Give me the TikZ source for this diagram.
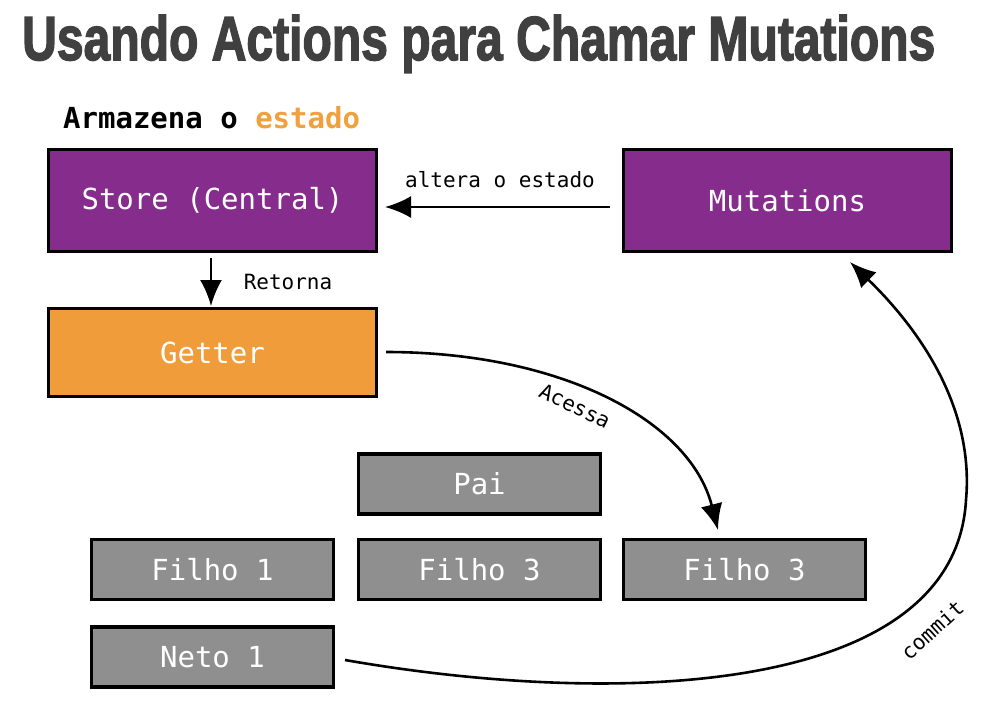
\documentclass[tikz,border=0pt]{standalone}
\usepackage{fontspec}
\setmainfont{Liberation Sans}
\setmonofont{DejaVu Sans Mono}
\newfontfamily\titlefont[BoldFeatures={FakeBold=2.5}]{Liberation Sans}
\usetikzlibrary{arrows.meta}
\definecolor{vpurple}{RGB}{134,44,140}
\definecolor{vorange}{RGB}{241,156,58}
\definecolor{vgrey}{RGB}{143,143,143}
\definecolor{vtitle}{RGB}{64,64,64}
\definecolor{vlabel}{RGB}{240,160,60}
\tikzset{
  box/.style={draw=black, line width=3.4pt, text=white, inner sep=0pt,
    font=\ttfamily\fontsize{29}{29}\selectfont},
  bigbox/.style={box, minimum width=328pt, minimum height=102pt},
  getbox/.style={box, minimum width=328pt, minimum height=88pt, fill=vorange},
  smallbox/.style={box, minimum width=242pt, minimum height=60pt, fill=vgrey},
  conn/.style={line width=2.6pt, -{Latex[length=26pt,width=22pt]}},
  lbl/.style={font=\ttfamily\fontsize{21}{21}\selectfont, text=black, inner sep=0pt}
}
\begin{document}
\begin{tikzpicture}[x=1pt,y=-1pt]
\useasboundingbox (0,0) rectangle (985,705);
% title
\node[anchor=base west, inner sep=0pt, text=vtitle] (title) at (22,60)
  {\resizebox{913pt}{45pt}{\titlefont\bfseries Usando Actions para Chamar Mutations}};
\node[anchor=base west, inner sep=0pt, font=\ttfamily\bfseries\fontsize{29}{29}\selectfont] (arm) at (63,128)
  {Armazena o \textcolor{vlabel}{estado}};
% boxes
\node[bigbox, fill=vpurple] (store) at (212.5,200.5) {Store (Central)};
\node[bigbox, fill=vpurple] (mut) at (787.5,200.5) {Mutations};
\node[getbox] (getter) at (212.5,352.5) {Getter};
\node[smallbox] (pai) at (479.5,484) {Pai};
\node[smallbox] (f1) at (212.5,569.5) {Filho 1};
\node[smallbox] (f3a) at (479.5,569.5) {Filho 3};
\node[smallbox] (f3b) at (744.5,569.5) {Filho 3};
\node[smallbox] (neto) at (212.5,657) {Neto 1};
% connectors
\coordinate (sb) at (211,258);
\coordinate (gt) at (211,306);
\draw[conn] (sb) -- (gt);
\node[lbl] (lret) at (288,282) {Retorna};
\coordinate (ms) at (610,207);
\coordinate (se) at (385,207);
\draw[conn] (ms) -- (se);
\node[lbl] (lalt) at (500,180) {altera o estado};
\coordinate (ge) at (386,352);
\coordinate (ft) at (718,530);
\draw[conn] (ge) .. controls (560,352) and (690,420) .. (ft);
\node[lbl, rotate=-26] (lac) at (575,406) {Acessa};
\coordinate (ne) at (345,660);
\coordinate (mb) at (850,262);
\coordinate (mid) at (966,500);
\draw[conn] (ne) .. controls (620,708) and (955,695) .. (mid)
  .. controls (975,400) and (910,320) .. (mb);
\node[lbl, rotate=42] (lcom) at (932,630) {commit};
\end{tikzpicture}
\end{document}
